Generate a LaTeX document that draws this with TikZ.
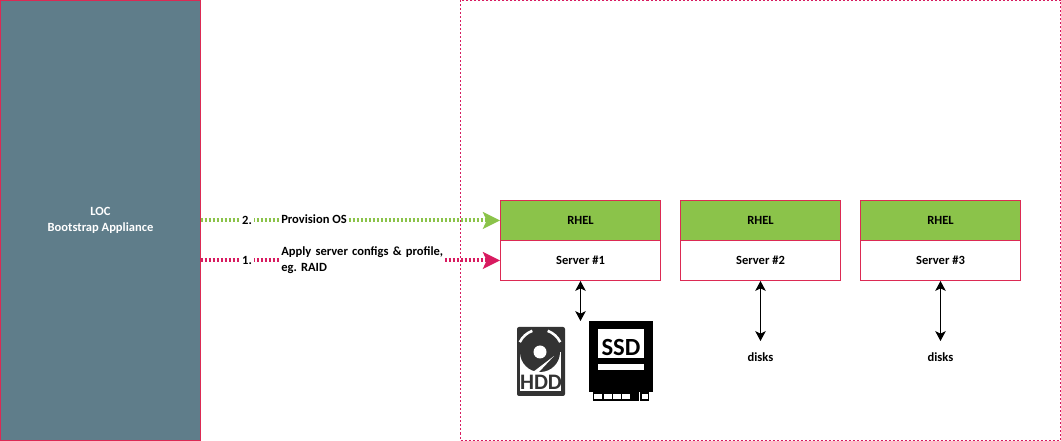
\documentclass[tikz,border=0pt]{standalone}
\usepackage{fontspec}
\setmainfont{Carlito}
\usetikzlibrary{arrows.meta,positioning}
\definecolor{lineRed}{HTML}{D81B60}
\definecolor{boxRed}{HTML}{DC2A54}
\definecolor{rhelGreen}{HTML}{8BC34A}
\definecolor{locGrey}{HTML}{5F7D8A}
\definecolor{hddGrey}{HTML}{333333}
\tikzset{
  every node/.style={font=\fontsize{9.4pt}{12pt}\selectfont\bfseries\frenchspacing,inner sep=0pt},
  stepline/.style={line width=3pt,dash pattern=on 1.5pt off 1.5pt,-{Stealth[length=13pt,width=13pt,inset=3pt,fill=#1,line width=0pt]},draw=#1},
  serverbox/.style={draw=boxRed,line width=0.75pt,minimum width=120pt,minimum height=30pt,text=black},
  linklabel/.style={fill=white,align=left,text=black},
  disklink/.style={{Stealth[length=7.5pt,width=8pt,inset=2pt]}-{Stealth[length=7.5pt,width=8pt,inset=2pt]},line width=0.75pt,black}
}
\begin{document}
\begin{tikzpicture}[x=0.75pt,y=-0.75pt]
  \useasboundingbox (0,0) rectangle (1061,441);
  \node(loc)[fill=locGrey,draw=boxRed,line width=0.75pt,minimum width=150pt,minimum height=330pt,align=center,text=white] at (100.5,220.5) {LOC\\Bootstrap Appliance};
  \draw[lineRed,line width=0.75pt,dash pattern=on 1.5pt off 1.5pt] (460.5,0.5) rectangle (1060.5,440.5);

  \foreach \i/\x in {1/580.5,2/760.5,3/940.5}{
    \node(rhel\i)[serverbox,fill=rhelGreen] at (\x,220.5) {RHEL};
    \node(server\i)[serverbox,fill=white] at (\x,260.5) {Server \#\i};
  }
  \coordinate(locA) at (200.5,220.5);
  \coordinate(locB) at (200.5,260.5);
  \draw[stepline=rhelGreen] (locA) -- (rhel1.west);
  \draw[stepline=lineRed] (locB) -- (server1.west);
  \node(numA)[linklabel,minimum width=10pt,minimum height=12pt] at (247,220.5) {2.};
  \node(numB)[linklabel,minimum width=10pt,minimum height=12pt] at (247,260.5) {1.};
  \node(provision)[linklabel,anchor=west] at (281,219.5) {Provision OS};
  \node(apply)[linklabel,anchor=west,text width=123pt] at (281,260) {Apply server configs \& profile,\\eg. RAID};

  \node(disks2) at (760.5,357) {disks};
  \node(disks3) at (940.5,357) {disks};
  \coordinate(hddTop) at (580.5,321);
  \draw[disklink] (server1.south) -- (hddTop);
  \draw[disklink] (server2.south) -- (760.5,341);
  \draw[disklink] (server3.south) -- (940.5,341);

  % hdd icon
  \fill[hddGrey,rounded corners=1.5pt] (517,327) rectangle (565,396);
  \fill[white] (520,350) rectangle (561,391);
  \fill[hddGrey] (540,352) circle (20);
  \fill[hddGrey] (517,350) rectangle (565,352);
  \draw[white,line width=1.9pt] ([shift={(206:22.5)}]540,352) arc (206:250:22.5);
  \draw[white,line width=1.9pt] ([shift={(290:22.5)}]540,352) arc (290:334:22.5);
  \fill[white] (540,352) circle (6.5);
  \fill[white] (533,372) -- (554,356) -- (539,372) -- cycle;
  \node(hdd)[font=\fontsize{16.6pt}{16.6pt}\selectfont\bfseries,text=hddGrey] at (541,382) {HDD};

  % ssd icon
  \fill[black] (589,321) rectangle (653,392);
  \fill[black] (592.5,392) rectangle (639,401);
  \fill[black] (640,392) rectangle (649,401);
  \fill[white] (598,329) rectangle (644,358);
  \fill[white] (598,364) rectangle (644,370);
  \foreach \x in {594,604,613,622}{
    \fill[white] (\x,394) rectangle ++(8,5);
  }
  \fill[white] (642,394) rectangle ++(6,5);
  \node(ssd)[font=\fontsize{18.5pt}{18.5pt}\selectfont\bfseries,text=black] at (621,347) {SSD};
\end{tikzpicture}
\end{document}
